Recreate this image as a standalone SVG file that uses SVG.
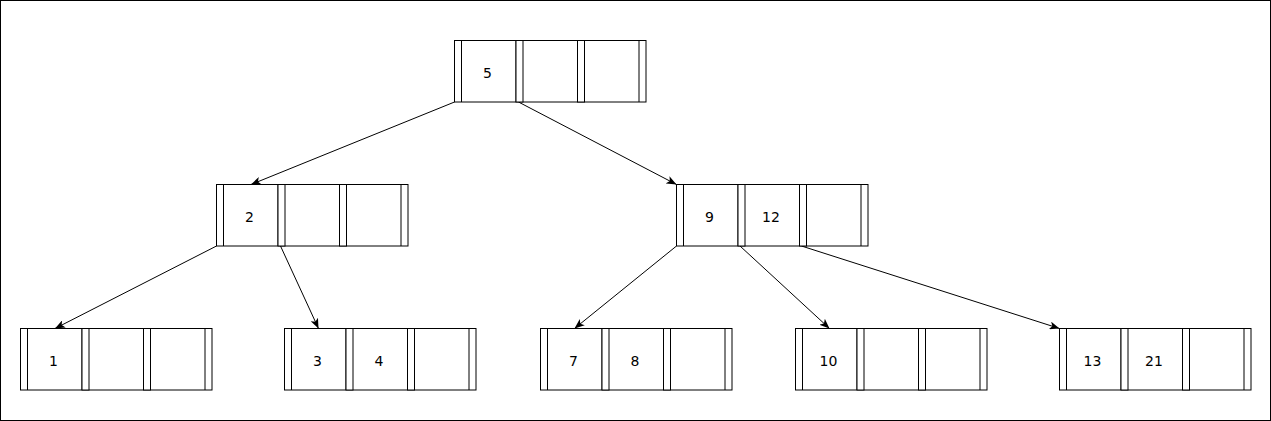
<svg xmlns="http://www.w3.org/2000/svg" xmlns:xlink="http://www.w3.org/1999/xlink" width="1271" height="421" viewBox="0 0 1271 421">
  <style>
    .cell rect { fill: #ffffff; stroke: #000000; stroke-width: 1; }
    .cell line { stroke: #000000; stroke-width: 1; }
    .lbl { font-family: "DejaVu Sans", Verdana, sans-serif; font-size: 14px; fill: #000000; text-anchor: middle; }
    .edge { stroke: #000000; stroke-width: 1; fill: none; marker-end: url(#arrow); }
  </style>
  <defs>
    <g id="cell" class="cell">
      <rect x="0" y="0" width="68.5" height="61.5"/>
      <line x1="7" y1="0" x2="7" y2="61.5"/>
      <line x1="61.5" y1="0" x2="61.5" y2="61.5"/>
    </g>
    <marker id="arrow" markerUnits="userSpaceOnUse" viewBox="0 0 10 8" markerWidth="10" markerHeight="8" refX="10" refY="4" orient="auto">
      <path d="M0,0 L10,4 L0,8 L2.5,4 Z" fill="#000000"/>
    </marker>
  </defs>
  <rect x="0.5" y="0.5" width="1270" height="420" fill="#ffffff" stroke="#000000" stroke-width="1"/>

  <g id="connectors">
    <line class="edge" x1="454.5" y1="102" x2="251" y2="184.5"/>
    <line class="edge" x1="518.5" y1="102" x2="676.5" y2="184.5"/>
    <line class="edge" x1="216.5" y1="246" x2="55" y2="328.5"/>
    <line class="edge" x1="280.5" y1="246" x2="318.5" y2="328.5"/>
    <line class="edge" x1="676.5" y1="246" x2="574.5" y2="328.5"/>
    <line class="edge" x1="740" y1="246" x2="829.5" y2="328.5"/>
    <line class="edge" x1="801.5" y1="246" x2="1059.5" y2="328.5"/>
  </g>

  <g id="node-5" transform="translate(454.5,40.5)">
    <use xlink:href="#cell" x="0" y="0"/>
    <use xlink:href="#cell" x="61.5" y="0"/>
    <use xlink:href="#cell" x="123" y="0"/>
    <text class="lbl" x="33" y="37.5">5</text>
  </g>

  <g id="node-2" transform="translate(216.5,184.5)">
    <use xlink:href="#cell" x="0" y="0"/>
    <use xlink:href="#cell" x="61.5" y="0"/>
    <use xlink:href="#cell" x="123" y="0"/>
    <text class="lbl" x="33" y="37.5">2</text>
  </g>

  <g id="node-9-12" transform="translate(676.5,184.5)">
    <use xlink:href="#cell" x="0" y="0"/>
    <use xlink:href="#cell" x="61.5" y="0"/>
    <use xlink:href="#cell" x="123" y="0"/>
    <text class="lbl" x="33" y="37.5">9</text>
    <text class="lbl" x="94.5" y="37.5">12</text>
  </g>

  <g id="node-1" transform="translate(20.5,328.5)">
    <use xlink:href="#cell" x="0" y="0"/>
    <use xlink:href="#cell" x="61.5" y="0"/>
    <use xlink:href="#cell" x="123" y="0"/>
    <text class="lbl" x="33" y="37.5">1</text>
  </g>

  <g id="node-3-4" transform="translate(284.5,328.5)">
    <use xlink:href="#cell" x="0" y="0"/>
    <use xlink:href="#cell" x="61.5" y="0"/>
    <use xlink:href="#cell" x="123" y="0"/>
    <text class="lbl" x="33" y="37.5">3</text>
    <text class="lbl" x="94.5" y="37.5">4</text>
  </g>

  <g id="node-7-8" transform="translate(540.5,328.5)">
    <use xlink:href="#cell" x="0" y="0"/>
    <use xlink:href="#cell" x="61.5" y="0"/>
    <use xlink:href="#cell" x="123" y="0"/>
    <text class="lbl" x="33" y="37.5">7</text>
    <text class="lbl" x="94.5" y="37.5">8</text>
  </g>

  <g id="node-10" transform="translate(795.5,328.5)">
    <use xlink:href="#cell" x="0" y="0"/>
    <use xlink:href="#cell" x="61.5" y="0"/>
    <use xlink:href="#cell" x="123" y="0"/>
    <text class="lbl" x="33" y="37.5">10</text>
  </g>

  <g id="node-13-21" transform="translate(1059.5,328.5)">
    <use xlink:href="#cell" x="0" y="0"/>
    <use xlink:href="#cell" x="61.5" y="0"/>
    <use xlink:href="#cell" x="123" y="0"/>
    <text class="lbl" x="33" y="37.5">13</text>
    <text class="lbl" x="94.5" y="37.5">21</text>
  </g>
</svg>
